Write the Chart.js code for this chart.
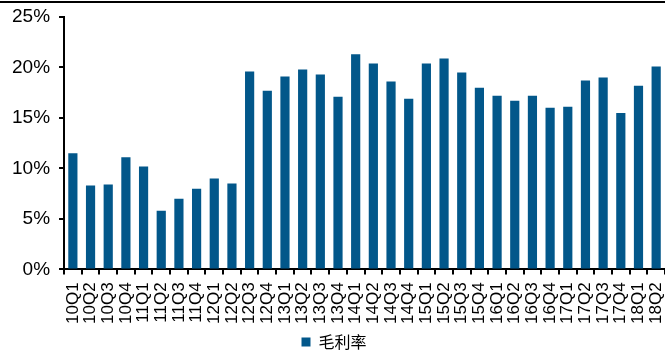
<!DOCTYPE html>
<html lang="zh">
<head>
<meta charset="UTF-8">
<title>毛利率</title>
<script src="https://cdn.jsdelivr.net/npm/chart.js"></script>
<style>
  html, body { margin: 0; padding: 0; background: #fff; }
  #wrap { width: 665px; height: 358px; position: relative; }
  #topline { position: absolute; left: 0; top: 1px; width: 665px; height: 2px; background: #000; }
  #chart { position: absolute; left: 0; top: 0; }
</style>
</head>
<body>
<div id="wrap">
  <canvas id="chart" width="665" height="358"></canvas>
  <div id="topline"></div>
</div>
<script>
const categories = ['10Q1','10Q2','10Q3','10Q4','11Q1','11Q2','11Q3','11Q4','12Q1','12Q2','12Q3','12Q4',
  '13Q1','13Q2','13Q3','13Q4','14Q1','14Q2','14Q3','14Q4','15Q1','15Q2','15Q3','15Q4',
  '16Q1','16Q2','16Q3','16Q4','17Q1','17Q2','17Q3','17Q4','18Q1','18Q2'];
const grossMargin = [11.5, 8.3, 8.4, 11.1, 10.2, 5.8, 7.0, 8.0, 9.0, 8.5, 19.6, 17.7,
  19.1, 19.8, 19.3, 17.1, 21.3, 20.4, 18.6, 16.9, 20.4, 20.9, 19.5, 18.0,
  17.2, 16.7, 17.2, 16.0, 16.1, 18.7, 19.0, 15.5, 18.2, 20.1];
const seriesName = '毛利率';

const ctx = document.getElementById('chart').getContext('2d');
new Chart(ctx, {
  type: 'bar',
  data: {
    labels: categories,
    datasets: [{
      label: seriesName,
      data: grossMargin,
      backgroundColor: '#02578a',
      borderWidth: 0,
      categoryPercentage: 1.0,
      barPercentage: 0.52
    }]
  },
  options: {
    responsive: false,
    animation: false,
    layout: { padding: { top: 17, right: 0, left: 3, bottom: -2 } },
    plugins: {
      legend: {
        position: 'bottom',
        labels: {
          boxWidth: 9,
          boxHeight: 9,
          padding: 2,
          color: '#000',
          font: { size: 16, family: '"Noto Sans CJK SC", sans-serif' }
        }
      },
      tooltip: { enabled: false }
    },
    scales: {
      x: {
        // rotated labels would otherwise reserve room on the right
        afterFit: scale => { scale.paddingLeft = 0; scale.paddingRight = 0; },
        grid: { drawOnChartArea: false, drawTicks: true, tickLength: 5, color: '#000', lineWidth: 2 },
        border: { color: '#000', width: 2 },
        ticks: {
          color: '#000',
          minRotation: 90,
          maxRotation: 90,
          autoSkip: false,
          padding: 8,
          font: { size: 17, family: '"Liberation Sans", Arial, sans-serif' }
        }
      },
      y: {
        afterFit: scale => { scale.paddingTop = 0; scale.paddingBottom = 0; },
        min: 0,
        max: 25,
        grid: { drawOnChartArea: false, drawTicks: true, tickLength: 5, color: '#000', lineWidth: 2 },
        border: { color: '#000', width: 2 },
        ticks: {
          stepSize: 5,
          color: '#000',
          padding: 9,
          font: { size: 19, family: '"Liberation Sans", Arial, sans-serif' },
          callback: v => v + '%'
        }
      }
    }
  }
});
</script>
</body>
</html>
